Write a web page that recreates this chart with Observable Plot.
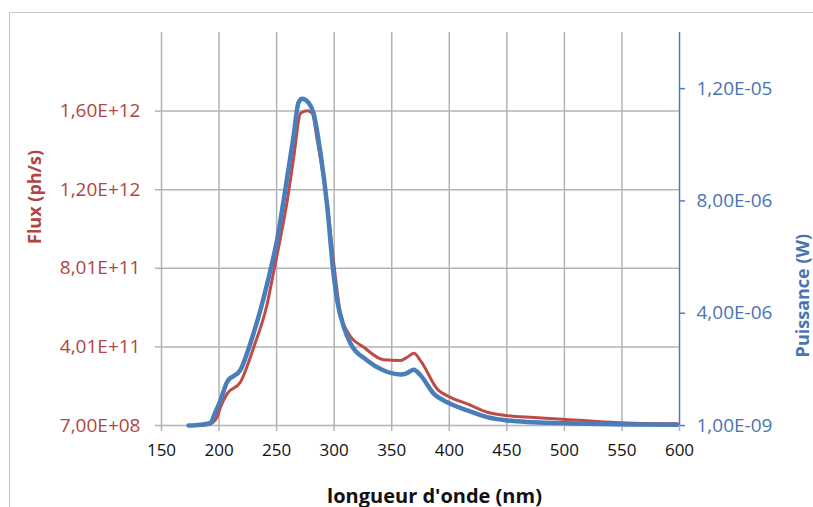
<!DOCTYPE html>
<html><head><meta charset="utf-8">
<script src="https://cdn.jsdelivr.net/npm/d3@7"></script>
<script src="https://cdn.jsdelivr.net/npm/@observablehq/plot@0.6"></script>
<style>
html,body{margin:0;padding:0;background:#fff;overflow:hidden;}
#frame{position:absolute;left:9px;top:12px;width:900px;height:600px;border:1.5px solid #c4c4c4;box-sizing:border-box;}
#chart{position:absolute;left:0;top:0;}
</style></head>
<body>
<div id="frame"></div>
<div id="chart"></div>
<script>
// Flux (ph/s), left axis — red series
const fluxNm = [185,192.6,198.4,201.3,207.1,218.6,230.2,241.8,247.6,253.4,259.2,264.9,270.8,276.6,280.9,285.3,294,299.7,305.5,312.7,325.7,343.1,357.6,363.4,369.2,375,389.5,401.1,415.6,432.9,450.3,473.4,508.2,531.4,560.3,598];
const fluxVal = [0.007e11,0.1e11,0.45e11,0.95e11,1.63e11,2.22e11,4.0e11,6.19e11,7.88e11,9.57e11,11.43e11,13.67e11,15.9e11,16.02e11,15.9e11,14.52e11,11.31e11,8.25e11,5.7e11,4.67e11,3.99e11,3.35e11,3.31e11,3.48e11,3.68e11,3.31e11,1.87e11,1.44e11,1.11e11,0.68e11,0.51e11,0.42e11,0.29e11,0.2e11,0.12e11,0.09e11];
// Puissance (W), right axis — blue series
const powNm = [173.5,183.9,192.6,196,201.3,207.1,218.6,227.3,236,244.7,250.5,256.2,264.7,269,272.2,277.7,282,288.1,294,299.4,302.6,308.4,314.2,328.7,343.1,357.6,363.4,369.2,375,386.6,398.2,415.6,432.9,450.3,473.2,502.4,560,598];
const powVal = [0.0,0.03e-6,0.09e-6,0.4e-6,0.91e-6,1.56e-6,1.98e-6,2.94e-6,4.125e-6,5.55e-6,6.63e-6,8.05e-6,10.3e-6,11.5e-6,11.64e-6,11.5e-6,11.14e-6,9.71e-6,7.8e-6,5.43e-6,4.46e-6,3.51e-6,2.92e-6,2.32e-6,1.96e-6,1.82e-6,1.87e-6,1.99e-6,1.79e-6,1.13e-6,0.83e-6,0.54e-6,0.30e-6,0.18e-6,0.12e-6,0.08e-6,0.04e-6,0.03e-6];

const xTicks = [150,200,250,300,350,400,450,500,550,600];
const leftTicks = [7e8,4.007e11,8.007e11,1.2007e12,1.6007e12];
const leftLabels = ["7,00E+08","4,01E+11","8,01E+11","1,20E+12","1,60E+12"];
const rightTicks = [1e-9,4.001e-6,8.001e-6,1.2001e-5];
const rightLabels = ["1,00E-09","4,00E-06","8,00E-06","1,20E-05"];

const xDomain = [150,600];
const leftDomain = [7e8, 2.0007e12];
const rightDomain = [1e-9, 1.4e-5];
const toLeft = p => leftDomain[0] + (p - rightDomain[0]) / (rightDomain[1] - rightDomain[0]) * (leftDomain[1] - leftDomain[0]);

const flux = fluxNm.map((x,i)=>({x, y: fluxVal[i]}));
const pow = powNm.map((x,i)=>({x, y: toLeft(powVal[i])}));
const leftMap = new Map(leftTicks.map((t,i)=>[t,leftLabels[i]]));
const rightMap = new Map(rightTicks.map((t,i)=>[toLeft(t),rightLabels[i]]));

const RED = "#BE4B48", REDTXT = "#B04543", BLUE = "#4A7EBB", BLUETXT = "#4A74B0", GRID = "#b3b3b3";

const chart = Plot.plot({
  width: 813, height: 507,
  marginLeft: 161, marginRight: 134, marginTop: 32, marginBottom: 82,
  style: {fontFamily: "'Open Sans', sans-serif", fontSize: "18px", background: "transparent"},
  x: {domain: xDomain},
  y: {domain: leftDomain},
  marks: [
    Plot.gridX(xTicks.slice(0,-1), {stroke: GRID, strokeOpacity: 1, strokeWidth: 1.5}),
    Plot.gridY(leftTicks.slice(1), {stroke: GRID, strokeOpacity: 1, strokeWidth: 1.5}),
    Plot.ruleY([leftDomain[0]], {stroke: GRID, strokeWidth: 1.5}),
    Plot.axisX(xTicks, {tickSize: 6, tickPadding: 12, stroke: GRID, strokeWidth: 1.5, fill: "#111", fontSize: 17, label: null}),
    Plot.axisY(leftTicks, {anchor: "left", tickSize: 6, tickPadding: 15, stroke: GRID, strokeWidth: 1.5, fill: REDTXT, fontSize: 19, tickFormat: d => leftMap.get(d), label: null}),
    Plot.axisY(rightTicks.map(toLeft), {anchor: "right", tickSize: 5, tickPadding: 12, stroke: BLUE, strokeWidth: 1.5, fill: BLUETXT, fontSize: 19, tickFormat: d => rightMap.get(d), label: null}),
    Plot.ruleX([xDomain[1]], {stroke: BLUE, strokeWidth: 1.5}),
    Plot.line(flux, {x: "x", y: "y", stroke: RED, strokeWidth: 3, curve: "monotone-x"}),
    Plot.line(pow, {x: "x", y: "y", stroke: BLUE, strokeWidth: 4.5, curve: "monotone-x"}),
    Plot.text(["Flux (ph/s)"], {frameAnchor: "left", rotate: -90, dx: -126, dy: 15, fill: REDTXT, fontWeight: "bold", fontSize: 18}),
    Plot.text(["Puissance (W)"], {frameAnchor: "right", rotate: -90, dx: 124, dy: 5, fill: BLUETXT, fontWeight: "bold", fontSize: 18}),
    Plot.text(["longueur d'onde (nm)"], {frameAnchor: "bottom", dx: 14, dy: 77, fill: "#111", fontWeight: "bold", fontSize: 20})
  ]
});
document.getElementById("chart").appendChild(chart);
</script>
</body></html>
